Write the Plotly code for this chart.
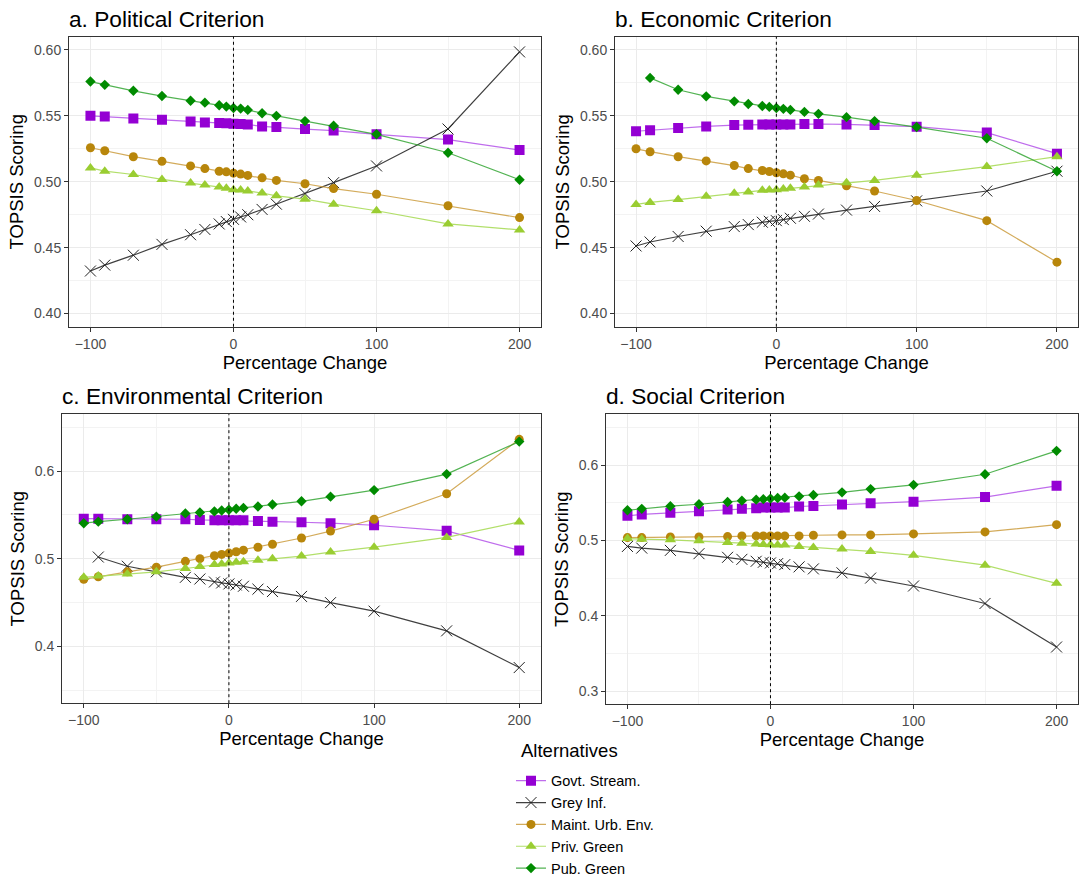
import plotly.graph_objects as go

W, H = 1086, 885

x_full = [-100, -90, -70, -50, -30, -20, -10, -5, 0, 5, 10, 20, 30, 50, 70, 100, 150, 200]
x_no100 = x_full[1:]

names = ["Govt. Stream.", "Grey Inf.", "Maint. Urb. Env.", "Priv. Green", "Pub. Green"]

# a. Political
pol_govt = [0.550, 0.5495, 0.548, 0.547, 0.5458, 0.545, 0.5445, 0.5443, 0.544, 0.5438, 0.5435, 0.542, 0.5415, 0.540, 0.5388, 0.536, 0.532, 0.524]
pol_grey = [0.4323, 0.4368, 0.4443, 0.4525, 0.4598, 0.4638, 0.468, 0.4698, 0.4715, 0.4733, 0.475, 0.479, 0.483, 0.491, 0.4993, 0.512, 0.540, 0.5985]
pol_maint = [0.5258, 0.5235, 0.519, 0.5155, 0.512, 0.510, 0.508, 0.5075, 0.5065, 0.5058, 0.5048, 0.503, 0.501, 0.4985, 0.4948, 0.4905, 0.4818, 0.4728]
pol_priv = [0.5105, 0.508, 0.5055, 0.5018, 0.499, 0.4975, 0.496, 0.495, 0.494, 0.4938, 0.493, 0.4915, 0.4893, 0.4868, 0.483, 0.478, 0.468, 0.4635]
pol_pub = [0.576, 0.5735, 0.569, 0.565, 0.5615, 0.560, 0.558, 0.557, 0.556, 0.5555, 0.5545, 0.552, 0.550, 0.546, 0.5425, 0.536, 0.522, 0.5015]

# b. Economic
eco_govt = [0.5383, 0.539, 0.5408, 0.542, 0.543, 0.5433, 0.5435, 0.5435, 0.5435, 0.5435, 0.5435, 0.5438, 0.5438, 0.5435, 0.543, 0.5418, 0.5373, 0.5213]
eco_grey = [0.4513, 0.4543, 0.4585, 0.4625, 0.466, 0.4675, 0.4693, 0.470, 0.4705, 0.4713, 0.4723, 0.4738, 0.4755, 0.4785, 0.4813, 0.4855, 0.493, 0.508]
eco_maint = [0.525, 0.5228, 0.519, 0.5158, 0.5123, 0.510, 0.5085, 0.5078, 0.5068, 0.506, 0.505, 0.5023, 0.501, 0.497, 0.493, 0.4858, 0.4705, 0.439]
eco_priv = [0.4828, 0.4843, 0.4865, 0.489, 0.4913, 0.4923, 0.4935, 0.4938, 0.494, 0.4945, 0.495, 0.496, 0.4975, 0.4993, 0.501, 0.505, 0.5115, 0.519]
eco_pub = [0.5788, 0.5698, 0.5648, 0.561, 0.559, 0.5575, 0.5568, 0.556, 0.5553, 0.5545, 0.553, 0.5515, 0.549, 0.546, 0.5415, 0.533, 0.508]

# c. Environmental
env_govt = [0.5457, 0.5457, 0.545, 0.545, 0.545, 0.5442, 0.5438, 0.5438, 0.5438, 0.5438, 0.5438, 0.5431, 0.5423, 0.5416, 0.5405, 0.5382, 0.5318, 0.5094]
env_grey = [0.5019, 0.4914, 0.485, 0.4787, 0.4768, 0.4734, 0.4723, 0.4712, 0.470, 0.4685, 0.4652, 0.4625, 0.4569, 0.4498, 0.4401, 0.4176, 0.3757]
env_maint = [0.4764, 0.4794, 0.485, 0.4903, 0.497, 0.500, 0.5034, 0.5049, 0.5064, 0.5079, 0.5097, 0.5131, 0.5165, 0.5236, 0.5315, 0.545, 0.5742, 0.6363]
env_priv = [0.4787, 0.4801, 0.4824, 0.485, 0.4888, 0.491, 0.4933, 0.494, 0.4951, 0.4959, 0.4966, 0.4981, 0.500, 0.503, 0.5075, 0.5131, 0.5243, 0.542]
env_pub = [0.5405, 0.5423, 0.545, 0.548, 0.5517, 0.5528, 0.554, 0.555, 0.5558, 0.557, 0.558, 0.5596, 0.5618, 0.5655, 0.5708, 0.5783, 0.5966, 0.6337]

# d. Social
soc_govt = [0.5326, 0.5344, 0.5365, 0.5387, 0.5409, 0.5418, 0.5427, 0.5435, 0.5435, 0.5435, 0.5435, 0.5449, 0.5457, 0.5475, 0.5492, 0.5514, 0.5575, 0.5724]
soc_grey = [0.4919, 0.4897, 0.4867, 0.4823, 0.4775, 0.4748, 0.4722, 0.4709, 0.470, 0.4691, 0.4678, 0.4648, 0.4621, 0.4569, 0.4499, 0.4394, 0.4162, 0.3584]
soc_maint = [0.5037, 0.5037, 0.5046, 0.5046, 0.505, 0.5059, 0.5059, 0.5059, 0.5059, 0.5059, 0.5059, 0.5059, 0.5068, 0.5072, 0.5072, 0.5085, 0.5112, 0.5208]
soc_priv = [0.5024, 0.5015, 0.5007, 0.4993, 0.4972, 0.4963, 0.495, 0.4945, 0.4941, 0.4939, 0.4937, 0.4919, 0.4906, 0.4884, 0.4853, 0.4801, 0.467, 0.4429]
soc_pub = [0.540, 0.5418, 0.5453, 0.5479, 0.551, 0.5527, 0.554, 0.5547, 0.5554, 0.5562, 0.5567, 0.5584, 0.5602, 0.5637, 0.568, 0.5737, 0.5877, 0.6188]

panel_titles = ["a. Political Criterion", "b. Economic Criterion", "c. Environmental Criterion", "d. Social Criterion"]
legend_title = "Alternatives"

panels = [
    dict(data=[(x_full, pol_govt), (x_full, pol_grey), (x_full, pol_maint), (x_full, pol_priv), (x_full, pol_pub)],
         box=(69, 541, 37, 329), yrange=[0.39, 0.61], ytick=[0.40, 0.45, 0.50, 0.55, 0.60], yfmt=".2f", minor=0.025),
    dict(data=[(x_full, eco_govt), (x_full, eco_grey), (x_full, eco_maint), (x_full, eco_priv), (x_no100, eco_pub)],
         box=(615, 1078, 37, 329), yrange=[0.39, 0.61], ytick=[0.40, 0.45, 0.50, 0.55, 0.60], yfmt=".2f", minor=0.025),
    dict(data=[(x_full, env_govt), (x_no100, env_grey), (x_full, env_maint), (x_full, env_priv), (x_full, env_pub)],
         box=(62, 541, 417, 708), yrange=[0.335, 0.665], ytick=[0.4, 0.5, 0.6], yfmt=".1f", minor=0.05),
    dict(data=[(x_full, soc_govt), (x_full, soc_grey), (x_full, soc_maint), (x_full, soc_priv), (x_full, soc_pub)],
         box=(606, 1078, 417, 709), yrange=[0.2825, 0.6675], ytick=[0.3, 0.4, 0.5, 0.6], yfmt=".1f", minor=0.05),
]

styles = [
    dict(color="#9400D3", line="rgba(170,60,230,0.75)", symbol="square", size=10),
    dict(color="#222222", line="rgba(0,0,0,0.75)", symbol="x-thin-open", size=11),
    dict(color="#B8860B", line="rgba(200,150,50,0.8)", symbol="circle", size=9),
    dict(color="#9ACD32", line="rgba(170,220,90,0.9)", symbol="triangle-up", size=10),
    dict(color="#008B00", line="rgba(40,160,40,0.8)", symbol="diamond", size=8),
]

FONT = "Liberation Sans, Arial, sans-serif"
fig = go.Figure()
annotations = []
shapes = []

for i, p in enumerate(panels):
    k = "" if i == 0 else str(i + 1)
    x0, x1, y0, y1 = p["box"]
    for j, (xs, ys) in enumerate(p["data"]):
        s = styles[j]
        marker = dict(symbol=s["symbol"], size=s["size"], color=s["color"])
        if s["symbol"] == "x-thin-open":
            marker["line"] = dict(color="#333333", width=1)
        fig.add_trace(go.Scatter(
            x=xs, y=ys, mode="lines+markers", name=names[j],
            showlegend=(i == 0),
            line=dict(color=s["line"], width=1.2),
            marker=marker, xaxis="x" + k, yaxis="y" + k,
        ))
    axis_common = dict(showline=True, linecolor="#333333", linewidth=1, mirror=True,
                       ticks="outside", ticklen=4, tickcolor="#333333",
                       gridcolor="#EBEBEB", gridwidth=1, zeroline=False,
                       tickfont=dict(family=FONT, size=14, color="#4D4D4D"),
                       title_font=dict(family=FONT, size=18.5, color="#000000"))
    fig.layout["xaxis" + k] = dict(axis_common, domain=[x0 / W, x1 / W], anchor="y" + k,
                                   range=[-115, 215], tickvals=[-100, 0, 100, 200],
                                   minor=dict(showgrid=True, gridcolor="#F3F3F3", tickvals=[-50, 50, 150], ticks=""),
                                   title=dict(text="Percentage Change", standoff=3))
    fig.layout["yaxis" + k] = dict(axis_common, domain=[1 - y1 / H, 1 - y0 / H], anchor="x" + k,
                                   range=p["yrange"], tickvals=p["ytick"], tickformat=p["yfmt"],
                                   minor=dict(showgrid=True, gridcolor="#F3F3F3", dtick=p["minor"], ticks=""),
                                   title=dict(text="TOPSIS Scoring", standoff=5))
    shapes.append(dict(type="line", xref="x" + k, yref="y" + k + " domain", x0=0, x1=0, y0=0, y1=1,
                       line=dict(color="black", width=1, dash="3px,3px")))
    annotations.append(dict(text=panel_titles[i], xref="paper", yref="paper",
                            x=(x0 - 2) / W, y=1 - (y0 - 18) / H, xanchor="left", yanchor="middle",
                            showarrow=False, font=dict(family=FONT, size=22.7, color="black")))

annotations.append(dict(text=legend_title, xref="paper", yref="paper",
                        x=519 / W, y=1 - 756 / H, xanchor="left", yanchor="middle",
                        showarrow=False, font=dict(family=FONT, size=18.5, color="black")))

fig.update_layout(
    width=W, height=H, margin=dict(l=0, r=0, t=0, b=0),
    paper_bgcolor="white", plot_bgcolor="white",
    font=dict(family=FONT, color="black"),
    annotations=annotations, shapes=shapes,
    legend=dict(x=511 / W, y=1 - 770 / H, xanchor="left", yanchor="top",
                font=dict(family=FONT, size=14.5), itemwidth=30, bgcolor="rgba(0,0,0,0)",
                tracegroupgap=0),
)

fig.write_html("out.html")
